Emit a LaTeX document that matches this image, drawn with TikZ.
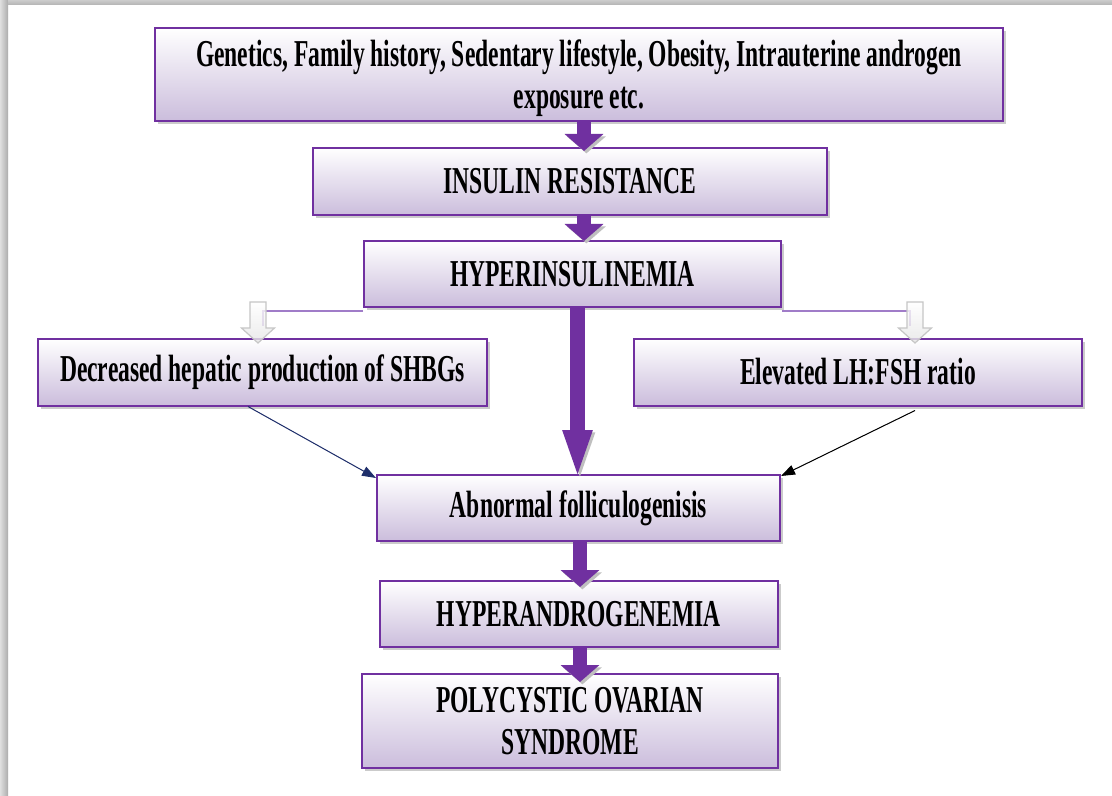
\documentclass[tikz,border=0pt]{standalone}
\usepackage{fontspec}
\setmainfont{Liberation Serif}[FakeStretch=0.62]
\usetikzlibrary{arrows.meta,shadows,calc}
\definecolor{boxpurple}{HTML}{7030A0}
\definecolor{boxlav}{HTML}{CBBDDC}
\definecolor{linkpurple}{HTML}{A07CC8}
\definecolor{navyline}{HTML}{1F2F6B}
\tikzset{
  flowbox/.style={draw=boxpurple, line width=1pt, top color=white, bottom color=boxlav,
    font=\bfseries\fontsize{19}{21}\selectfont, align=center, inner sep=0pt,
    drop shadow={shadow xshift=1.5pt, shadow yshift=-1.5pt, fill=gray!80, opacity=0.5}},
  blockarrow/.style={draw=boxpurple, line width=7pt, -{Triangle[width=19pt,length=8.5pt]},
    preaction={draw=gray!50, transform canvas={shift={(1.2pt,-1.2pt)}}}},
  longarrow/.style={draw=boxpurple, line width=7.5pt, -{Triangle[width=13pt,length=25pt]},
    preaction={draw=gray!50, transform canvas={shift={(1.2pt,-1.2pt)}}}},
  linkline/.style={draw=linkpurple, line width=0.8pt},
  hollow/.style={draw=gray!45, line width=0.6pt, top color=white, bottom color=gray!20, fill opacity=0.8},
  thinarrow/.style={line width=0.5pt, -{Triangle[width=5pt,length=7pt]}}
}
\begin{document}
\begin{tikzpicture}[x=0.5pt, y=-0.5pt]
  \useasboundingbox (0,0) rectangle (1112,796);
  \fill[white] (0,0) rectangle (1112,796);
  % page edge
  \shade[left color=gray!25, right color=gray!65] (0,0) rectangle (8,796);
  \shade[top color=gray!40, bottom color=gray!60] (8,0) rectangle (1112,5);

  % boxes
  \node[flowbox, minimum width=424pt, minimum height=46.5pt] (gen) at (579,74.5)
    {\rule{0pt}{17pt}Genetics, Family history, Sedentary lifestyle, Obesity, Intrauterine androgen\\exposure etc.};
  \node[flowbox, minimum width=257pt, minimum height=33.5pt] (res) at (570,181.5) {INSULIN RESISTANCE};
  \node[flowbox, minimum width=208.5pt, minimum height=33pt] (hyp) at (572.5,274) {HYPERINSULINEMIA};
  \node[flowbox, minimum width=224.5pt, minimum height=33.5pt] (dec) at (262.5,372) {Decreased hepatic production of SHBGs};
  \node[flowbox, minimum width=224pt, minimum height=33.5pt] (elev) at (858,372) {Elevated LH:FSH ratio};
  \node[flowbox, minimum width=201.5pt, minimum height=33pt] (abn) at (578.5,508) {Abnormal folliculogenisis};
  \node[flowbox, minimum width=199pt, minimum height=33pt] (andr) at (579,614) {HYPERANDROGENEMIA};
  \node[flowbox, minimum width=208pt, minimum height=47pt] (pcos) at (570,721) {POLYCYSTIC OVARIAN\\SYNDROME};

  % main chain
  \draw[blockarrow] ([xshift=2.5pt]gen.south) -- ([xshift=7pt,yshift=-2pt]res.north);
  \draw[blockarrow] ([xshift=7pt]res.south) -- ([xshift=5.75pt,yshift=-0.5pt]hyp.north);
  \draw[longarrow] ([xshift=2.5pt]hyp.south) -- ([xshift=-0.5pt,yshift=-3pt]abn.north);
  \draw[blockarrow] ([xshift=0.75pt]abn.south) -- ([xshift=0.5pt,yshift=-3.5pt]andr.north);
  \draw[blockarrow] ([xshift=0.5pt]andr.south) -- ([xshift=5pt,yshift=-4.5pt]pcos.north);

  % side branches
  \coordinate (lt) at (258,302);
  \coordinate (rt) at (915,302);
  \draw[linkline] ([yshift=-1.5pt]hyp.south west) -| ($(lt)+(5,24)$);
  \draw[linkline] ([yshift=-1.5pt]hyp.south east) -| ($(rt)+(-5,24)$);
  \draw[hollow] (lt) ++(-8,0) -- ++(0,26) -- ++(-8.5,0) -- ++(16.5,15) -- ++(16.5,-15) -- ++(-8.5,0) -- ++(0,-26) -- cycle;
  \draw[hollow] (rt) ++(-8,0) -- ++(0,26) -- ++(-8.5,0) -- ++(16.5,15) -- ++(16.5,-15) -- ++(-8.5,0) -- ++(0,-26) -- cycle;

  \draw[thinarrow, draw=navyline, fill=navyline] ([xshift=-7.25pt]dec.south) -- ([yshift=-2pt]abn.north west);
  \draw[thinarrow, draw=black, fill=black] ([xshift=28.5pt,yshift=-2pt]elev.south) -- ([yshift=-1pt]abn.north east);
\end{tikzpicture}
\end{document}
